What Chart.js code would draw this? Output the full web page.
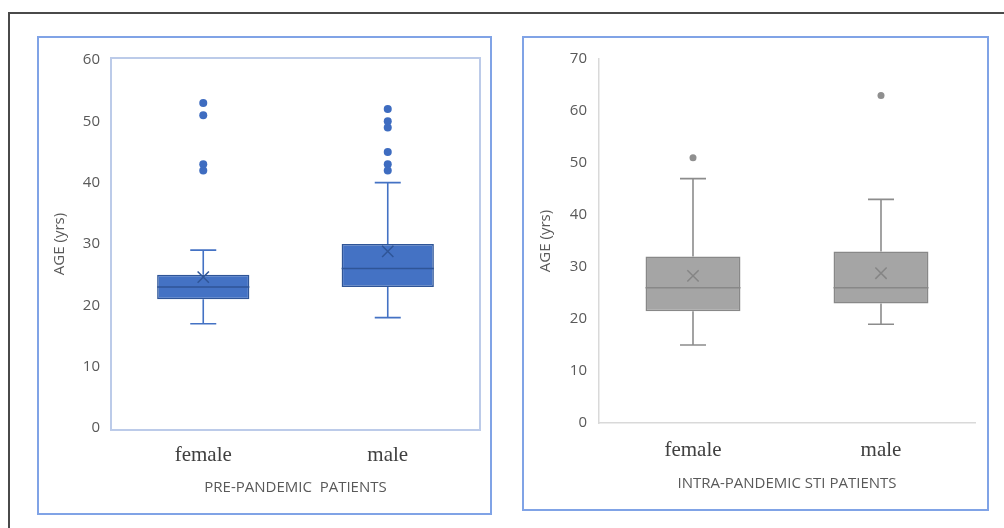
<!DOCTYPE html>
<html>
<head>
<meta charset="utf-8">
<script src="https://cdn.jsdelivr.net/npm/chart.js@4.4.1/dist/chart.umd.min.js"></script>
<style>
  body { margin: 0; background: #fff; width: 1004px; height: 528px; overflow: hidden; position: relative; }
  .frame { position: absolute; left: 8px; top: 12px; width: 1010px; height: 530px; border-left: 2px solid #4a4a4a; border-top: 2px solid #4a4a4a; }
  .panel { position: absolute; border: 2px solid #80a3e6; box-sizing: border-box; }
  .wrap { position: absolute; }
</style>
</head>
<body>
<div class="frame"></div>
<div class="panel" style="left:37px; top:36px; width:455px; height:479px;"></div>
<div class="panel" style="left:522px; top:36px; width:467px; height:475px;"></div>
<div class="wrap" style="left:38px; top:37px; width:453px; height:477px;"><canvas id="preChart"></canvas></div>
<div class="wrap" style="left:524px; top:37px; width:464px; height:473px;"><canvas id="intraChart"></canvas></div>

<script>
const groups = ['female', 'male'];

// pre-pandemic patients
const preMin = [17, 18];
const preQ1 = [21, 23];
const preMedian = [23, 26];
const preQ3 = [25, 30];
const preMax = [29, 40];
const preMean = [24.6, 28.8];
const preOutFemale = [53, 51, 43, 42];
const preOutMale = [52, 50, 49, 45, 43, 42];
const preTicks = [0, 10, 20, 30, 40, 50, 60];

// intra-pandemic STI patients
const intraMin = [15, 19];
const intraQ1 = [21.5, 23];
const intraMedian = [26, 26];
const intraQ3 = [32, 33];
const intraMax = [47, 43];
const intraMean = [28.3, 28.8];
const intraOutFemale = [51];
const intraOutMale = [63];
const intraTicks = [0, 10, 20, 30, 40, 50, 60, 70];

const tickFont = { family: 'Open Sans', size: 15 };
const catFont = { family: 'Liberation Serif', size: 21 };
const titleFont = { family: 'Open Sans', size: 15 };

const boxPlugin = {
    id: 'boxParts',
    beforeDatasetsDraw(chart) {
        const o = chart.options.plugins.boxParts;
        const ctx = chart.ctx;
        const xs = chart.scales.x, ys = chart.scales.y;
        ctx.save();
        ctx.strokeStyle = o.whisker;
        ctx.lineWidth = 1.6;
        o.min.forEach((mn, i) => {
            const x = xs.getPixelForValue(i);
            const segs = [[mn, o.q1[i]], [o.q3[i], o.max[i]]];
            ctx.beginPath();
            segs.forEach(s => {
                ctx.moveTo(x, ys.getPixelForValue(s[0]));
                ctx.lineTo(x, ys.getPixelForValue(s[1]));
            });
            [mn, o.max[i]].forEach(v => {
                const y = ys.getPixelForValue(v);
                ctx.moveTo(x - o.cap, y);
                ctx.lineTo(x + o.cap, y);
            });
            ctx.stroke();
        });
        ctx.restore();
    },
    afterDatasetsDraw(chart) {
        const o = chart.options.plugins.boxParts;
        const ctx = chart.ctx;
        const ys = chart.scales.y;
        const meta = chart.getDatasetMeta(0);
        ctx.save();
        ctx.strokeStyle = o.medianColor;
        ctx.lineWidth = 1.6;
        o.median.forEach((m, i) => {
            const bar = meta.data[i];
            const y = ys.getPixelForValue(m);
            ctx.beginPath();
            ctx.moveTo(bar.x - bar.width / 2, y);
            ctx.lineTo(bar.x + bar.width / 2, y);
            ctx.stroke();
        });
        if (o.frame) {
            const a = chart.chartArea;
            ctx.strokeStyle = o.frame;
            ctx.lineWidth = 2;
            ctx.strokeRect(a.left, a.top - 2, a.right - a.left, a.bottom - a.top + 4);
        }
        ctx.restore();
    }
};

function makeBoxChart(id, s) {
    const outPoints = s.outFemale.map(v => ({ x: groups[0], y: v }))
        .concat(s.outMale.map(v => ({ x: groups[1], y: v })));
    const meanPoints = s.mean.map((v, i) => ({ x: groups[i], y: v }));

    return new Chart(document.getElementById(id), {
        type: 'bar',
        data: {
            labels: groups,
            datasets: [
                {
                    data: s.q1.map((v, i) => [v, s.q3[i]]),
                    backgroundColor: s.fill,
                    borderColor: s.border,
                    borderWidth: 1.5,
                    borderSkipped: false,
                    categoryPercentage: 1,
                    barPercentage: s.barPct,
                    order: 3
                },
                {
                    type: 'line',
                    data: meanPoints,
                    showLine: false,
                    pointStyle: 'crossRot',
                    pointRadius: 8,
                    pointBorderWidth: 1.5,
                    pointBorderColor: s.meanColor,
                    order: 1
                },
                {
                    type: 'line',
                    data: outPoints,
                    showLine: false,
                    pointRadius: s.dot,
                    pointBackgroundColor: s.dotColor,
                    pointBorderColor: s.dotColor,
                    pointBorderWidth: 0,
                    order: 2
                }
            ]
        },
        options: {
            responsive: true,
            maintainAspectRatio: false,
            animation: false,
            events: [],
            layout: { padding: { top: s.top, right: s.right, left: 0, bottom: 0 } },
            plugins: {
                legend: { display: false },
                tooltip: { enabled: false },
                boxParts: {
                    min: s.min, q1: s.q1, median: s.median, q3: s.q3, max: s.max,
                    whisker: s.whisker, medianColor: s.border, cap: 13, frame: s.frame
                }
            },
            scales: {
                x: {
                    grid: { display: false, drawTicks: false },
                    border: { display: !s.frame, color: '#d9d9d9', width: 1.5 },
                    ticks: { font: catFont, color: '#404040', padding: 15 },
                    title: { display: true, text: s.title, font: titleFont, color: '#595959', padding: { top: 0, bottom: 17 } },
                    afterFit: (scale) => { scale.height = s.xHeight; }
                },
                y: {
                    min: 0,
                    max: s.yTicks[s.yTicks.length - 1],
                    afterBuildTicks: (scale) => { scale.ticks = s.yTicks.map(v => ({ value: v })); },
                    grid: { display: false, drawTicks: false },
                    border: { display: !s.frame, color: '#d9d9d9', width: 1.5 },
                    ticks: { font: tickFont, color: '#595959', padding: s.tickPad },
                    title: { display: true, text: 'AGE (yrs)', font: titleFont, color: '#595959', padding: { top: 13, bottom: 0 } },
                    afterFit: (scale) => { scale.width = s.yWidth; }
                }
            }
        },
        plugins: [boxPlugin]
    });
}

makeBoxChart('preChart', {
    min: preMin, q1: preQ1, median: preMedian, q3: preQ3, max: preMax, mean: preMean,
    outFemale: preOutFemale, outMale: preOutMale, yTicks: preTicks,
    title: 'PRE-PANDEMIC  PATIENTS',
    fill: '#4472c4', border: '#2f5597', whisker: '#4472c4', meanColor: '#2f5597',
    dotColor: '#3e6cc0', dot: 4, barPct: 0.5, frame: '#bccbe9',
    top: 23, right: 11, yWidth: 73, xHeight: 86, tickPad: 11
});

makeBoxChart('intraChart', {
    min: intraMin, q1: intraQ1, median: intraMedian, q3: intraQ3, max: intraMax, mean: intraMean,
    outFemale: intraOutFemale, outMale: intraOutMale, yTicks: intraTicks,
    title: 'INTRA-PANDEMIC STI PATIENTS',
    fill: '#a5a5a5', border: '#888888', whisker: '#8c8c8c', meanColor: '#858585',
    dotColor: '#8f8f8f', dot: 3.5, barPct: 0.505, frame: null,
    top: 22, right: 13, yWidth: 75, xHeight: 87, tickPad: 12
});
</script>
</body>
</html>
